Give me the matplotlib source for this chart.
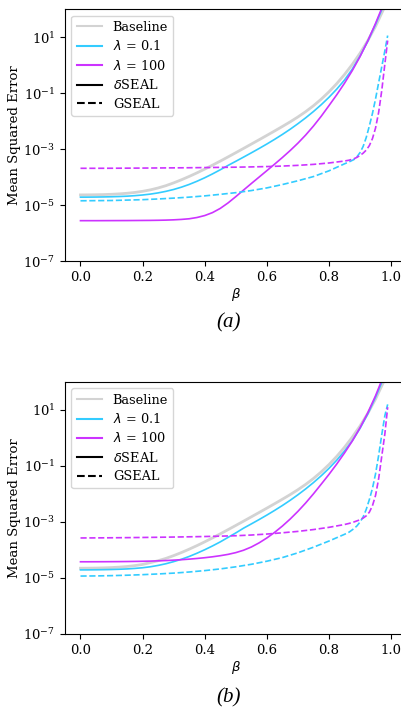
import numpy as np
import matplotlib
matplotlib.use("Agg")
import matplotlib.pyplot as plt

# 字体
plt.rcParams['font.family'] = ['DejaVu Serif']
plt.rcParams['font.size'] = 9.5

# beta grids
beta_solid = [i * 0.025 for i in range(40)] + [0.99]
beta_dash = [i * 0.05 for i in range(18)] + [0.865, 0.88, 0.89, 0.9, 0.91, 0.92, 0.93, 0.94,
                                              0.95, 0.96, 0.97, 0.98, 0.989]

# panel (a): log10 of MSE
a_baseline = [-4.63, -4.628, -4.624, -4.618, -4.608, -4.593, -4.572, -4.542, -4.502,
              -4.45, -4.382, -4.30, -4.20, -4.09, -3.97, -3.843, -3.708, -3.568, -3.423, -3.274, -3.123,
              -2.97, -2.816, -2.661, -2.505, -2.347, -2.187, -2.022, -1.847, -1.657, -1.447, -1.212,
              -0.95, -0.657, -0.332, 0.028, 0.428, 0.878, 1.39, 1.98, 2.4]
a_delta_01 = [-4.71, -4.709, -4.706, -4.702, -4.696, -4.687, -4.675, -4.657, -4.633,
              -4.601, -4.558, -4.503, -4.436, -4.353, -4.256, -4.143, -4.018, -3.88, -3.733, -3.578, -3.43,
              -3.28, -3.128, -2.973, -2.813, -2.646, -2.471, -2.286, -2.088, -1.878, -1.653, -1.41,
              -1.145, -0.853, -0.528, -0.14, 0.323, 0.86, 1.46, 2.12, 2.5]
a_delta_100 = [-5.55, -5.55, -5.55, -5.549, -5.548, -5.547, -5.546, -5.544, -5.542,
               -5.54, -5.536, -5.53, -5.52, -5.505, -5.482, -5.437, -5.367, -5.262, -5.112, -4.917, -4.692,
               -4.457, -4.224, -3.994, -3.764, -3.532, -3.295, -3.047, -2.782, -2.492, -2.172, -1.822,
               -1.442, -1.055, -0.642, -0.192, 0.308, 0.87, 1.495, 2.17, 2.6]
a_g_01 = [-4.84, -4.835, -4.83, -4.815, -4.8, -4.775, -4.745, -4.71, -4.665, -4.61, -4.55, -4.475,
          -4.38, -4.26, -4.125, -3.975, -3.77, -3.52,
          -3.45, -3.37, -3.27, -3.12, -2.9, -2.58, -2.17, -1.72, -1.2, -0.62, -0.05, 0.52, 1.06]
a_g_100 = [-3.68, -3.68, -3.678, -3.675, -3.672, -3.668, -3.664, -3.66, -3.654, -3.647, -3.64, -3.63,
           -3.618, -3.6, -3.575, -3.54, -3.49, -3.42,
           -3.39, -3.34, -3.29, -3.22, -3.14, -3.03, -2.87, -2.62, -2.24, -1.68, -0.9, 0.05, 0.88]

# panel (b)
b_baseline = [-4.65, -4.648, -4.644, -4.637, -4.627, -4.611, -4.589, -4.557, -4.515,
              -4.45, -4.382, -4.30, -4.20, -4.09, -3.97, -3.843, -3.708, -3.568, -3.423, -3.274, -3.123,
              -2.97, -2.816, -2.661, -2.505, -2.347, -2.187, -2.022, -1.847, -1.657, -1.447, -1.212,
              -0.95, -0.657, -0.332, 0.028, 0.428, 0.878, 1.39, 1.98, 2.4]
b_delta_01 = [-4.71, -4.709, -4.706, -4.702, -4.696, -4.687, -4.675, -4.657, -4.633,
              -4.598, -4.55, -4.49, -4.415, -4.33, -4.23, -4.115, -3.99, -3.855, -3.71, -3.55, -3.39,
              -3.22, -3.068, -2.913, -2.753, -2.586, -2.411, -2.226, -2.028, -1.818, -1.593, -1.35,
              -1.085, -0.793, -0.468, -0.1, 0.343, 0.86, 1.46, 2.12, 2.5]
b_delta_100 = [-4.42, -4.42, -4.419, -4.418, -4.416, -4.414, -4.411, -4.407, -4.402,
               -4.396, -4.387, -4.376, -4.362, -4.346, -4.326, -4.302, -4.275, -4.242, -4.203, -4.156, -4.093,
               -4.008, -3.893, -3.745, -3.57, -3.37, -3.145, -2.895, -2.62, -2.32, -1.995, -1.65,
               -1.30, -0.93, -0.535, -0.11, 0.365, 0.90, 1.51, 2.20, 2.6]
b_g_01 = [-4.93, -4.925, -4.915, -4.9, -4.88, -4.855, -4.825, -4.785, -4.735, -4.675, -4.6, -4.51,
          -4.4, -4.27, -4.1, -3.9, -3.68, -3.44,
          -3.36, -3.24, -3.14, -3.0, -2.82, -2.55, -2.2, -1.8, -1.28, -0.62, 0.12, 0.8, 1.2]
b_g_100 = [-3.57, -3.567, -3.563, -3.558, -3.552, -3.545, -3.537, -3.528, -3.518, -3.505, -3.49, -3.465,
           -3.43, -3.385, -3.335, -3.27, -3.19, -3.09,
           -3.05, -3.0, -2.96, -2.92, -2.86, -2.78, -2.65, -2.42, -2.05, -1.45, -0.65, 0.15, 1.1]

c_base = '#d3d3d3'
c_01 = '#33ccff'
c_100 = '#cc33ff'

fig = plt.figure(figsize=(4.01, 7.10), dpi=100)
ax_a = fig.add_axes([0.162, 0.632, 0.852, 0.355])
ax_b = fig.add_axes([0.162, 0.107, 0.852, 0.355])

panels = [
    (ax_a, a_baseline, a_delta_01, a_delta_100, a_g_01, a_g_100),
    (ax_b, b_baseline, b_delta_01, b_delta_100, b_g_01, b_g_100),
]

for ax, base, d01, d100, g01, g100 in panels:
    ax.plot(beta_solid, np.power(10.0, base), color=c_base, lw=2)
    ax.plot(beta_solid, np.power(10.0, d01), color=c_01, lw=1.2)
    ax.plot(beta_solid, np.power(10.0, d100), color=c_100, lw=1.2)
    ax.plot(beta_dash, np.power(10.0, g01), color=c_01, lw=1.2, ls='--')
    ax.plot(beta_dash, np.power(10.0, g100), color=c_100, lw=1.2, ls='--')

    ax.set_yscale('log')
    ax.set_ylim(1e-7, 1e2)
    ax.set_xlim(-0.05, 1.05)
    ax.set_yticks([1e-7, 1e-5, 1e-3, 1e-1, 1e1])
    ax.yaxis.set_minor_locator(matplotlib.ticker.NullLocator())
    ax.set_xticks([0.0, 0.2, 0.4, 0.6, 0.8, 1.0])
    ax.set_xlabel(r'$\beta$', labelpad=1.5)
    ax.set_ylabel('Mean Squared Error', labelpad=1.5)

    # 图例
    handles = [
        plt.Line2D([], [], color=c_base, lw=1.5),
        plt.Line2D([], [], color=c_01, lw=1.5),
        plt.Line2D([], [], color=c_100, lw=1.5),
        plt.Line2D([], [], color='black', lw=1.5),
        plt.Line2D([], [], color='black', lw=1.5, ls='--'),
    ]
    labels = ['Baseline', r'$\lambda$ = 0.1', r'$\lambda$ = 100', r'$\delta$SEAL', 'GSEAL']
    ax.legend(handles, labels, loc='upper left', fontsize=9.3, labelspacing=0.42)

fig.text(0.571, 0.545, '(a)', ha='center', va='center', fontsize=15,
         family='Liberation Serif', style='italic')
fig.text(0.571, 0.017, '(b)', ha='center', va='center', fontsize=15,
         family='Liberation Serif', style='italic')

fig.savefig('out.png', dpi=100)
